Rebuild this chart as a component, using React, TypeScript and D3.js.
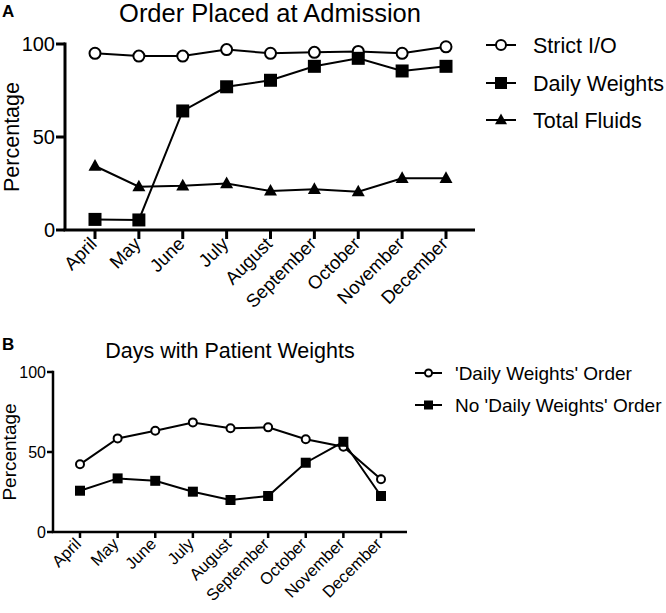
import React from "react";
import * as d3 from "d3";

const months = ["April", "May", "June", "July", "August", "September", "October", "November", "December"];
const strictIO = [95, 93.5, 93.5, 97, 95, 95.5, 96, 95, 98.5];
const dailyWeights = [5.7, 5.4, 64, 77, 80.5, 88, 92.3, 85.5, 88];
const totalFluids = [34.4, 23.3, 23.8, 25, 21, 21.9, 20.6, 27.8, 27.8];
const withOrder = [42.3, 58.5, 63.3, 68.5, 64.8, 65.4, 58, 53.3, 33];
const noOrder = [25.8, 33.5, 32, 25.2, 20, 22.5, 43.3, 56.4, 22.5];
const yTicks = [0, 50, 100];

const FONT = "'Liberation Sans', Arial, sans-serif";

type Shape = "circle" | "square" | "triangle";

function Marker({ shape, x, y, s }: { shape: Shape; x: number; y: number; s: number }) {
  if (shape === "circle")
    return <circle cx={x} cy={y} r={s / 2 - 1} fill="white" stroke="black" strokeWidth={2} />;
  if (shape === "square")
    return <rect x={x - s / 2} y={y - s / 2} width={s} height={s} fill="black" />;
  const h = s * 0.9;
  return (
    <path
      d={`M${x},${y - h * 0.6} L${x + s / 2},${y + h * 0.4} L${x - s / 2},${y + h * 0.4} Z`}
      fill="black"
    />
  );
}

function Panel(props: {
  letter: string;
  letterY: number;
  title: string;
  titleX: number;
  titleY: number;
  titleSize: number;
  axisX: number;
  axisEnd: number;
  xFirst: number;
  xLast: number;
  yTop: number;
  yBottom: number;
  tickLen: number;
  lw: number;
  tickFont: number;
  labelFont: number;
  xLabelFont: number;
  ylabelX: number;
  series: { name: string; values: number[]; shape: Shape }[];
  markerSize: number;
  legendX: number;
  legendY: number[];
  legendFont: number;
  legendLine: number;
  legendTextX: number;
  legendMarker: number;
  xLabelDy: number;
  xLabelDx: number;
}) {
  const x = d3.scalePoint<string>().domain(months).range([props.xFirst, props.xLast]);
  const y = d3.scaleLinear().domain([0, 100]).range([props.yBottom, props.yTop]);
  const line = d3
    .line<number>()
    .x((_, i) => x(months[i])!)
    .y((d) => y(d));
  return (
    <g fontFamily={FONT}>
      <text x={2} y={props.letterY} fontSize={17} fontWeight="bold">
        {props.letter}
      </text>
      <text x={props.titleX} y={props.titleY} fontSize={props.titleSize} textAnchor="middle">
        {props.title}
      </text>
      <text
        transform={`translate(${props.ylabelX},${(props.yTop + props.yBottom) / 2}) rotate(-90)`}
        textAnchor="middle"
        fontSize={props.labelFont}
      >
        Percentage
      </text>
      <line x1={props.axisX} x2={props.axisX} y1={props.yTop - props.lw / 2} y2={props.yBottom} stroke="black" strokeWidth={props.lw} />
      {yTicks.map((t) => (
        <g key={t}>
          <line x1={props.axisX - props.tickLen} x2={props.axisX} y1={y(t)} y2={y(t)} stroke="black" strokeWidth={props.lw} />
          <text x={props.axisX - props.tickLen - 1} y={y(t)} dy="0.35em" textAnchor="end" fontSize={props.tickFont}>
            {t}
          </text>
        </g>
      ))}
      <line x1={props.axisX - props.lw / 2} x2={props.axisEnd} y1={props.yBottom} y2={props.yBottom} stroke="black" strokeWidth={props.lw} />
      {months.map((m) => (
        <g key={m}>
          <line x1={x(m)} x2={x(m)} y1={props.yBottom} y2={props.yBottom + props.tickLen} stroke="black" strokeWidth={props.lw} />
          <text
            transform={`translate(${x(m)! + props.xLabelDx},${props.yBottom + props.xLabelDy}) rotate(-45)`}
            textAnchor="end"
            fontSize={props.xLabelFont}
          >
            {m}
          </text>
        </g>
      ))}
      {props.series.map((s) => (
        <g key={s.name}>
          <path d={line(s.values)!} fill="none" stroke="black" strokeWidth={2} />
          {s.values.map((v, i) => (
            <Marker key={i} shape={s.shape} x={x(months[i])!} y={y(v)} s={props.markerSize} />
          ))}
        </g>
      ))}
      {props.series.map((s, i) => (
        <g key={"lg" + s.name}>
          <line
            x1={props.legendX}
            x2={props.legendX + props.legendLine}
            y1={props.legendY[i]}
            y2={props.legendY[i]}
            stroke="black"
            strokeWidth={2}
          />
          <Marker shape={s.shape} x={props.legendX + props.legendLine / 2} y={props.legendY[i]} s={props.legendMarker} />
          <text x={props.legendTextX} y={props.legendY[i]} dy="0.35em" fontSize={props.legendFont}>
            {s.name}
          </text>
        </g>
      ))}
    </g>
  );
}

export default function App() {
  return (
    <svg width={666} height={613} style={{ position: "absolute", left: 0, top: 0, background: "white" }}>
      <rect width={666} height={613} fill="white" />
      <Panel
        letter="A"
        letterY={17}
        title="Order Placed at Admission"
        titleX={270}
        titleY={22}
        titleSize={25.5}
        axisX={65}
        axisEnd={475}
        xFirst={95}
        xLast={446}
        yTop={44}
        yBottom={230}
        tickLen={9}
        lw={3}
        tickFont={20}
        labelFont={21.5}
        xLabelFont={18.5}
        ylabelX={19}
        series={[
          { name: "Strict I/O", values: strictIO, shape: "circle" },
          { name: "Daily Weights", values: dailyWeights, shape: "square" },
          { name: "Total Fluids", values: totalFluids, shape: "triangle" },
        ]}
        markerSize={13}
        legendX={486}
        legendY={[45, 83, 120]}
        legendFont={21.5}
        legendLine={30}
        legendTextX={533}
        legendMarker={12}
        xLabelDy={15}
        xLabelDx={3}
      />
      <Panel
        letter="B"
        letterY={350}
        title="Days with Patient Weights"
        titleX={230}
        titleY={358}
        titleSize={21.5}
        axisX={53}
        axisEnd={407}
        xFirst={80}
        xLast={381}
        yTop={372}
        yBottom={532}
        tickLen={6}
        lw={2.5}
        tickFont={16}
        labelFont={19}
        xLabelFont={16.5}
        ylabelX={16}
        series={[
          { name: "'Daily Weights' Order", values: withOrder, shape: "circle" },
          { name: "No 'Daily Weights' Order", values: noOrder, shape: "square" },
        ]}
        markerSize={10}
        legendX={415}
        legendY={[373, 405]}
        legendFont={19}
        legendLine={27}
        legendTextX={455}
        legendMarker={9}
        xLabelDy={13}
        xLabelDx={2}
      />
    </svg>
  );
}
